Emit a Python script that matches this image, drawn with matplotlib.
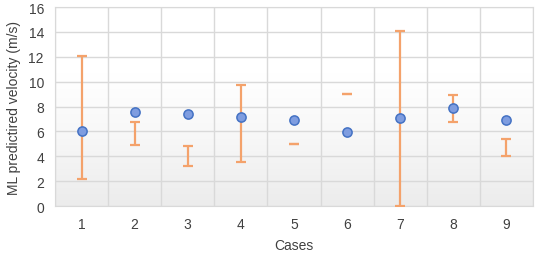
import numpy as np
import matplotlib.pyplot as plt
from matplotlib.colors import LinearSegmentedColormap

plt.rcParams['font.family'] = ['Liberation Sans', 'DejaVu Sans']

cases = [1, 2, 3, 4, 5, 6, 7, 8, 9]
predicted = [6.0, 7.53, 7.42, 7.13, 6.91, 5.92, 7.05, 7.9, 6.94]
range_low = [2.2, 4.88, 3.24, 3.54, 5.0, 9.0, 0.0, 6.75, 4.02]
range_high = [12.03, 6.75, 4.82, 9.73, 5.0, 9.0, 14.1, 8.92, 5.41]

fig = plt.figure(figsize=(5.36, 2.55), dpi=100)
ax = fig.add_axes([0.1026, 0.1882, 0.8918, 0.7804])

# background gradient (white at top, light grey at bottom)
cmap = LinearSegmentedColormap.from_list('bg', ['#ececec', '#f7f7f7', '#ffffff', '#ffffff'])
grad = np.linspace(0, 1, 256).reshape(-1, 1)
ax.imshow(grad, extent=[0.5, 9.5, 0, 16], origin='lower', aspect='auto', cmap=cmap, zorder=0)

low = np.array(range_low)
high = np.array(range_high)
mid = (low + high) / 2
half = (high - low) / 2
ax.errorbar(cases, mid, yerr=half, fmt='none', ecolor='#f4a26b', elinewidth=1.6,
            capsize=3.4, capthick=1.6, zorder=3)
ax.scatter(cases, predicted, s=44, color='#7f9de0', edgecolor='#4472c4', linewidth=1.1, zorder=4)

ax.set_xlim(0.5, 9.5)
ax.set_ylim(0, 16)
ax.set_xticks(cases)
ax.set_yticks(range(0, 17, 2))
ax.set_xticks(np.arange(0.5, 9.6, 1), minor=True)
ax.set_axisbelow(True)
ax.grid(True, which='minor', axis='x', color='#d9d9d9', linewidth=1)
ax.grid(True, which='major', axis='y', color='#d9d9d9', linewidth=1)
ax.tick_params(which='both', length=0, labelsize=10, colors='#404040', pad=8)
for s in ax.spines.values():
    s.set_color('#d9d9d9')

ax.set_xlabel('Cases', fontsize=10, color='#404040', labelpad=5)
ax.set_ylabel('ML predictired velocity (m/s)', fontsize=10, color='#404040', labelpad=5)

plt.savefig('out.png', dpi=100)
